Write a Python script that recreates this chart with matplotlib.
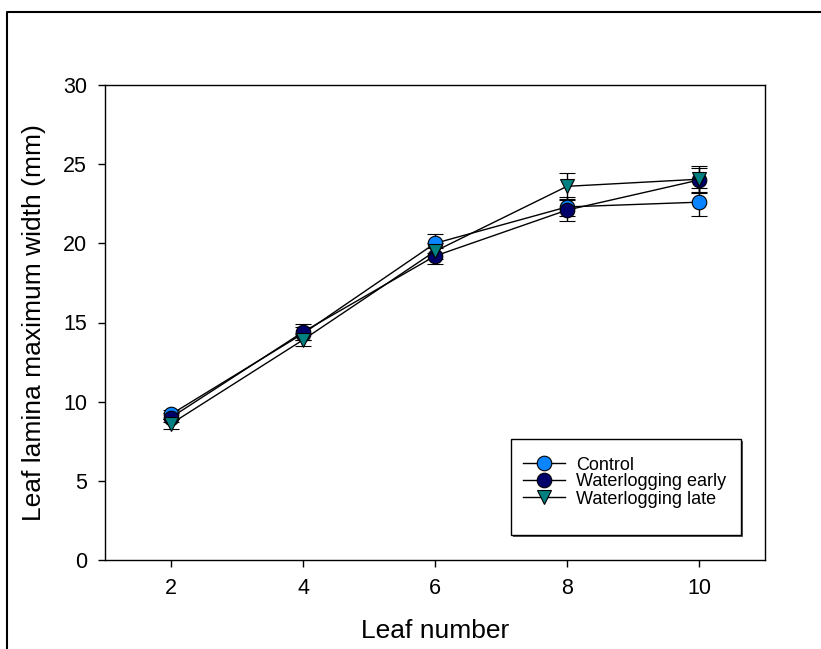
import matplotlib
matplotlib.use("Agg")
import matplotlib.pyplot as plt
from matplotlib.lines import Line2D
from matplotlib.patches import Rectangle

plt.rcParams["font.family"] = ["Liberation Sans", "DejaVu Sans"]

leaf = [2, 4, 6, 8, 10]
control = [9.2, 14.3, 20.0, 22.3, 22.6]
control_err = [0.3, 0.4, 0.6, 0.6, 0.9]
early = [9.0, 14.4, 19.2, 22.1, 24.0]
early_err = [0.3, 0.5, 0.5, 0.7, 0.75]
late = [8.6, 13.9, 19.5, 23.6, 24.05]
late_err = [0.3, 0.4, 0.5, 0.85, 0.85]

W, H = 821, 649
fig = plt.figure(figsize=(W / 100, H / 100), dpi=100)
ax = fig.add_axes([105 / W, 1 - 560 / H, 660 / W, 475 / H])

series = [
    ("Control", control, control_err, "o", "#0A84FF"),
    ("Waterlogging early", early, early_err, "o", "#00006B"),
    ("Waterlogging late", late, late_err, "v", "#008080"),
]
for name, vals, err, mk, col in series:
    ax.errorbar(leaf, vals, yerr=err, color="black", lw=1, capsize=6,
                capthick=1.2, elinewidth=1, marker=mk, markersize=10.5,
                markerfacecolor=col, markeredgecolor="black",
                markeredgewidth=0.8, label=name)

ax.set_xlim(1, 11)
ax.set_ylim(0, 30)
ax.set_xticks(leaf)
ax.set_yticks([0, 5, 10, 15, 20, 25, 30])
ax.tick_params(direction="out", length=5, labelsize=15.5, width=1, pad=8)
for s in ax.spines.values():
    s.set_linewidth(1)
ax.set_xlabel("Leaf number", fontsize=19, labelpad=14)
ax.set_ylabel("Leaf lamina maximum width (mm)", fontsize=19, labelpad=12)

# legend box with a thin drop shadow, entries placed inside it
bx0, bx1 = 406 / 660, 636 / 660
by0, by1 = 25 / 475, 121 / 475
sx, sy = 2 / 660, 2 / 475
ax.add_patch(Rectangle((bx0 + sx, by0 - sy), bx1 - bx0, by1 - by0,
                       transform=ax.transAxes, facecolor="0.35",
                       edgecolor="none", zorder=4))
ax.add_patch(Rectangle((bx0, by0), bx1 - bx0, by1 - by0,
                       transform=ax.transAxes, facecolor="white",
                       edgecolor="black", lw=1, zorder=5))

handles = [Line2D([], [], color="black", lw=1, marker=mk, markersize=10.5,
                  markerfacecolor=col, markeredgecolor="black",
                  markeredgewidth=0.8)
           for _, _, _, mk, col in series]
leg = ax.legend(handles, [s[0] for s in series], loc="upper left",
                bbox_to_anchor=(418 / 660, 103.5 / 475), borderaxespad=0,
                fontsize=13, frameon=False, borderpad=0,
                handlelength=2.3, labelspacing=0.0, handletextpad=0.65)
leg.set_zorder(6)

# outer border of the page
fig.add_artist(Line2D([7 / W, 7 / W, 1], [0, 1 - 12 / H, 1 - 12 / H],
                      transform=fig.transFigure, color="black", lw=1.5))

fig.savefig("out.png", dpi=100)
